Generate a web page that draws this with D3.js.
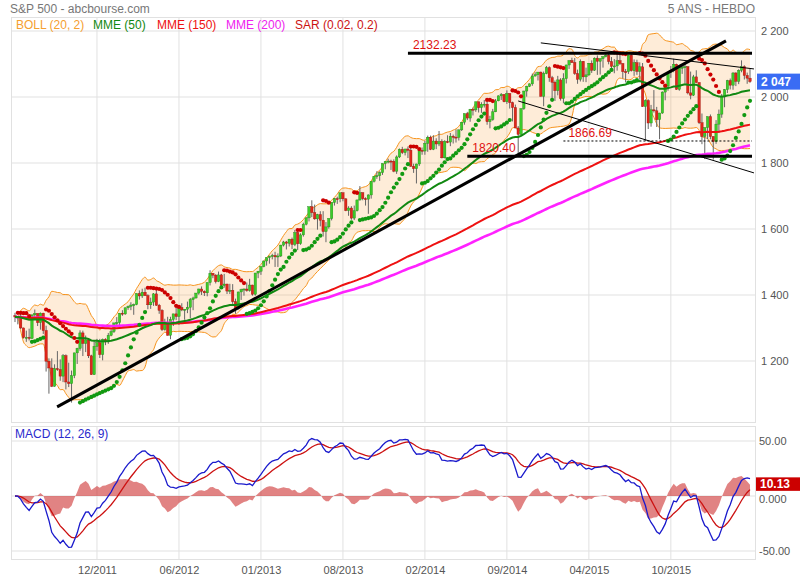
<!DOCTYPE html>
<html>
<head>
<meta charset="utf-8">
<script src="https://cdn.jsdelivr.net/npm/d3@7"></script>
<style>
  body { margin: 0; background: #fff; }
  svg { display: block; font-family: "Liberation Sans", Arial, sans-serif; }
</style>
</head>
<body>
<svg id="chart" width="800" height="580"></svg>
<script>
// S&P 500, weekly bars 20/05/2011 -> 13/05/2016 (261 weeks). open = previous week's close.
const firstOpen = 1337.8;
const closes = [
  1333.3,1331.1,1300.2,1271.0,1271.5,1268.5,1339.7,1343.8,1316.1,1345.0,
  1292.3,1199.4,1178.8,1123.5,1176.8,1174.0,1154.2,1216.0,1136.4,1131.4,
  1155.5,1224.6,1238.3,1285.1,1253.2,1263.9,1215.7,1158.7,1244.3,1255.2,
  1219.7,1265.3,1257.6,1277.8,1289.1,1315.4,1316.3,1344.9,1342.6,1361.2,
  1365.7,1369.6,1370.9,1404.2,1397.1,1408.5,1398.1,1370.3,1378.5,1403.4,
  1369.1,1353.4,1295.2,1317.8,1278.0,1325.7,1342.8,1335.0,1362.2,1354.7,
  1356.8,1362.7,1386.0,1391.0,1405.9,1418.2,1411.1,1406.6,1437.9,1465.8,
  1460.2,1440.7,1460.9,1428.6,1433.2,1411.9,1414.2,1379.9,1359.9,1409.2,
  1416.2,1418.1,1413.6,1430.2,1402.4,1466.5,1472.1,1486.0,1503.0,1513.2,
  1517.9,1519.8,1515.6,1518.2,1551.2,1560.7,1556.9,1569.2,1553.3,1588.9,
  1555.3,1582.2,1614.4,1633.7,1667.5,1649.6,1630.7,1643.4,1626.7,1592.4,
  1606.3,1631.9,1680.2,1692.1,1691.7,1709.7,1691.4,1655.8,1663.5,1633.0,
  1655.2,1688.0,1709.9,1691.8,1690.5,1703.2,1744.5,1759.8,1761.6,1770.6,
  1798.2,1804.8,1805.8,1805.1,1775.3,1818.3,1841.4,1831.4,1842.4,1838.7,
  1790.3,1782.6,1797.0,1838.6,1836.3,1859.5,1878.0,1841.1,1866.5,1857.6,
  1865.1,1815.7,1864.9,1863.4,1881.1,1878.5,1877.9,1900.5,1923.6,1949.4,
  1936.2,1962.9,1961.0,1985.4,1967.6,1978.2,1978.3,1925.2,1931.6,1955.1,
  1988.4,2003.4,2007.7,1985.5,2010.4,1982.9,1967.9,1906.1,1886.8,1964.6,
  2018.1,2031.9,2039.8,2063.5,2067.6,2075.4,2002.3,2070.7,2088.8,2058.2,
  2044.8,2019.4,2051.8,1995.0,2055.5,2097.0,2110.3,2104.5,2071.3,2053.4,
  2108.1,2061.0,2067.0,2102.1,2081.2,2117.7,2108.3,2116.1,2122.7,2126.1,
  2107.4,2092.8,2094.1,2110.0,2101.5,2076.8,2076.6,2126.6,2079.7,2103.8,
  2077.6,2091.5,1970.9,1988.9,1921.2,1961.1,1958.1,1931.3,1951.4,2014.9,
  2033.1,2075.2,2079.4,2099.2,2023.0,2089.2,2090.1,2091.7,2012.4,2005.6,
  2061.0,2043.9,1922.0,1880.3,1906.9,1940.2,1880.1,1864.8,1917.8,1948.1,
  2000.0,2022.2,2049.6,2035.9,2072.8,2047.6,2080.7,2091.6,2065.3,2057.1,
  2046.6
];
const highs = [
  1346,1334,1345,1301,1292,1298,1341,1356,1344,1347,
  1346,1307,1208,1208,1190,1230,1205,1221,1220,1195,
  1171,1225,1240,1293,1292,1277,1266,1219,1260,1267,
  1267,1268,1269,1285,1296,1316,1333,1345,1354,1362,
  1368,1378,1374,1405,1414,1419,1422,1402,1392,1406,
  1415,1373,1357,1328,1334,1334,1343,1364,1363,1375,
  1357,1380,1391,1395,1406,1419,1426,1414,1438,1475,
  1466,1463,1471,1464,1464,1434,1434,1433,1389,1410,
  1419,1420,1438,1449,1431,1467,1473,1487,1504,1514,
  1519,1525,1531,1526,1552,1564,1564,1570,1574,1597,
  1593,1587,1619,1636,1668,1687,1674,1646,1654,1654,
  1621,1632,1681,1694,1698,1710,1711,1693,1669,1669,
  1671,1689,1730,1711,1696,1705,1745,1760,1775,1775,
  1799,1806,1813,1810,1811,1823,1844,1849,1843,1850,
  1849,1798,1798,1839,1847,1867,1883,1883,1884,1875,
  1897,1872,1869,1884,1891,1886,1902,1901,1924,1950,
  1955,1964,1968,1986,1986,1984,1991,1985,1943,1964,
  1994,2005,2012,2009,2020,2011,1986,1977,1912,1966,
  2019,2034,2041,2071,2075,2076,2077,2077,2094,2093,
  2064,2050,2064,2057,2072,2098,2111,2119,2118,2083,
  2114,2109,2089,2103,2111,2120,2126,2117,2123,2135,
  2132,2121,2115,2127,2130,2102,2085,2128,2133,2114,
  2113,2105,2103,1993,1993,1976,2021,1970,1952,2017,
  2034,2076,2094,2116,2101,2097,2095,2104,2093,2077,
  2067,2081,2044,1950,1908,1941,1947,1881,1930,1962,
  2009,2024,2052,2056,2075,2075,2084,2111,2096,2074,
  2085
];
const lows = [
  1318,1311,1297,1268,1258,1262,1267,1334,1306,1295,
  1282,1168,1101,1121,1122,1170,1140,1136,1114,1121,
  1074,1148,1191,1231,1215,1227,1209,1158,1158,1231,
  1209,1202,1248,1252,1275,1285,1306,1300,1337,1340,
  1355,1354,1340,1369,1386,1391,1397,1357,1358,1367,
  1367,1343,1291,1292,1277,1266,1306,1324,1309,1351,
  1325,1345,1330,1354,1389,1401,1400,1397,1396,1429,
  1451,1435,1439,1425,1422,1403,1403,1373,1343,1356,
  1385,1398,1410,1410,1398,1398,1451,1461,1484,1489,
  1495,1508,1485,1485,1515,1547,1538,1547,1539,1548,
  1536,1552,1577,1611,1623,1636,1628,1598,1608,1577,
  1560,1601,1626,1671,1676,1681,1684,1654,1640,1628,
  1627,1653,1686,1687,1671,1646,1692,1741,1752,1746,
  1764,1781,1799,1779,1772,1767,1815,1827,1823,1815,
  1788,1770,1738,1791,1825,1825,1834,1839,1839,1842,
  1851,1814,1814,1860,1851,1859,1862,1868,1897,1916,
  1930,1925,1944,1955,1953,1952,1968,1916,1905,1928,
  1954,1987,1991,1984,1979,1965,1926,1905,1821,1884,
  1961,2001,2030,2034,2062,2050,2001,1972,2069,2046,
  1992,1988,2005,1989,1981,2041,2085,2103,2067,2040,
  2047,2046,2045,2064,2073,2079,2067,2068,2089,2120,
  2099,2085,2072,2080,2097,2056,2044,2070,2077,2064,
  2067,2052,1970,1867,1903,1910,1953,1909,1872,1949,
  1990,2019,2058,2075,2022,2019,2070,2042,2008,1993,
  2003,2043,1918,1857,1812,1872,1872,1810,1858,1891,
  1937,1969,2012,2023,2022,2033,2039,2075,2053,2040,
  2043
];

// week index of each date label (one every 29 weeks)
const xTickIdx = [29, 58, 87, 116, 145, 174, 203, 232];
const xTickLabels = ["12/2011", "06/2012", "01/2013", "08/2013", "02/2014", "09/2014", "04/2015", "10/2015"];
const priceTicks = [1200, 1400, 1600, 1800, 2000, 2200];
const macdTicks = [50, 0, -50];
const macdTickLabels = ["50.00", "0.000", "-50.00"];
const macdLast = 10.13;

// hand-drawn annotations, in (week index, price)
const trendLines = [
  [14.9, 1061, 251.5, 2170],
  [186, 2164, 261.4, 2085],
  [178, 1988, 261.4, 1770],
];
const levels = [2132.23, 1820.40, 1866.69];
const levelFrom = [139, 160, 194];
const levelDotted = [false, false, true];

const legendLabels = ["BOLL (20, 2)", "MME (50)", "MME (150)", "MME (200)", "SAR (0.02, 0.2)"];

// ---- layout / style
const L = 11, R = 755, MT = 17, MB = 422, DT = 426, DB = 559;
const COL = {
  grid: "#e1e1e1", text: "#666", boll: "#f7941d", bollFill: "rgba(250,160,60,0.2)",
  up: "#3ccc2a", upEdge: "#1f8a14", down: "#e0261a", downEdge: "#9c130b", wick: "#666",
  e50: "#118811", e150: "#ee1111", e200: "#ff22ff", sarUp: "#119911", sarDn: "#cc0000",
  macd: "#1a1acc", signal: "#cc1111", hist: "rgba(200,30,30,0.55)",
};
const legendColors = ["#f5a030", "#118811", "#ee1111", "#ee22ee", "#cc1111"];
const legendX = [16, 93, 157, 226, 295];

const svg = d3.select("#chart");
const x = d3.scaleLinear().domain([0, 260]).range([15, 750]);
const y = d3.scaleLinear().domain([1800, 2200]).range([163, 31]);
const ym = d3.scaleLinear().domain([-50, 50]).range([551, 441]);
const fmt = d3.formatLocale({ decimal: ".", thousands: " ", grouping: [3], currency: ["", ""] }).format(",d");

// ---- indicators from the weekly bars
const bars = closes.map((c, i) => {
  const o = i ? closes[i - 1] : firstOpen;
  return { i, o, c, h: Math.max(highs[i], o, c), l: Math.min(lows[i], o, c) };
});
function ema(arr, n) {
  const k = 2 / (n + 1), out = [];
  arr.forEach((v, i) => out.push(i ? out[i - 1] + k * (v - out[i - 1]) : v));
  return out;
}
const boll = closes.map((c, i) => {
  const w = closes.slice(Math.max(0, i - 19), i + 1);
  const m = d3.mean(w), sd = Math.sqrt(d3.mean(w, (v) => (v - m) ** 2));
  return { i, up: m + 2 * sd, lo: m - 2 * sd };
});
const mme = { e50: ema(closes, 50), e150: ema(closes, 150), e200: ema(closes, 200) };

function parabolicSar(step, maxAf) {
  const out = [];
  let up = false, af = step, ep = bars[0].l, s = bars[0].h;
  for (let i = 1; i < bars.length; i++) {
    s = s + af * (ep - s);
    const b = bars[i];
    if (up) s = Math.min(s, bars[i - 1].l, i > 1 ? bars[i - 2].l : Infinity);
    else s = Math.max(s, bars[i - 1].h, i > 1 ? bars[i - 2].h : -Infinity);
    if (up && b.l < s) { up = false; s = ep; ep = b.l; af = step; }
    else if (!up && b.h > s) { up = true; s = ep; ep = b.h; af = step; }
    else if (up && b.h > ep) { ep = b.h; af = Math.min(af + step, maxAf); }
    else if (!up && b.l < ep) { ep = b.l; af = Math.min(af + step, maxAf); }
    out.push({ i, v: s, up });
  }
  return out;
}
const sar = parabolicSar(0.02, 0.2);

const e12 = ema(closes, 12), e26 = ema(closes, 26);
const macd = e12.map((v, i) => v - e26[i]);
const signal = ema(macd, 9);
const hist = macd.map((v, i) => v - signal[i]);

// ---- frames + grid
const defs = svg.append("defs");
defs.append("clipPath").attr("id", "clipMain").append("rect")
  .attr("x", L).attr("y", MT).attr("width", R - L).attr("height", MB - MT);
defs.append("clipPath").attr("id", "clipMacd").append("rect")
  .attr("x", L).attr("y", DT).attr("width", R - L).attr("height", DB - DT);

const grid = svg.append("g").attr("stroke", COL.grid).attr("stroke-width", 1);
priceTicks.forEach((t) => grid.append("line").attr("x1", L).attr("x2", R).attr("y1", y(t)).attr("y2", y(t)));
macdTicks.forEach((t) => grid.append("line").attr("x1", L).attr("x2", R).attr("y1", ym(t)).attr("y2", ym(t)));
xTickIdx.forEach((t) => {
  grid.append("line").attr("x1", x(t)).attr("x2", x(t)).attr("y1", MT).attr("y2", MB);
  grid.append("line").attr("x1", x(t)).attr("x2", x(t)).attr("y1", DT).attr("y2", DB);
});
grid.append("rect").attr("x", L + 0.5).attr("y", MT + 0.5).attr("width", R - L).attr("height", MB - MT).attr("fill", "none");
grid.append("rect").attr("x", L + 0.5).attr("y", DT + 0.5).attr("width", R - L).attr("height", DB - DT).attr("fill", "none");

// ---- main panel
const main = svg.append("g").attr("clip-path", "url(#clipMain)");

main.append("path").datum(boll)
  .attr("fill", COL.bollFill)
  .attr("d", d3.area().x((d) => x(d.i)).y0((d) => y(d.lo)).y1((d) => y(d.up)).curve(d3.curveMonotoneX));
["up", "lo"].forEach((k) => main.append("path").datum(boll)
  .attr("fill", "none").attr("stroke", COL.boll).attr("stroke-width", 1)
  .attr("d", d3.line().x((d) => x(d.i)).y((d) => y(d[k])).curve(d3.curveMonotoneX)));

const candle = main.append("g").selectAll("g").data(bars).join("g");
candle.append("line")
  .attr("x1", (d) => x(d.i)).attr("x2", (d) => x(d.i))
  .attr("y1", (d) => y(d.h)).attr("y2", (d) => y(d.l))
  .attr("stroke", COL.wick).attr("stroke-width", 1);
candle.append("rect")
  .attr("x", (d) => x(d.i) - 1.2).attr("width", 2.4)
  .attr("y", (d) => y(Math.max(d.o, d.c)))
  .attr("height", (d) => Math.max(1, Math.abs(y(d.o) - y(d.c))))
  .attr("fill", (d) => d.c >= d.o ? COL.up : COL.down)
  .attr("stroke", (d) => d.c >= d.o ? COL.upEdge : COL.downEdge)
  .attr("stroke-width", 0.4);

[["e200", COL.e200, 2.6], ["e150", COL.e150, 2], ["e50", COL.e50, 2]].forEach(([k, c, w]) =>
  main.append("path").datum(mme[k])
    .attr("fill", "none").attr("stroke", c).attr("stroke-width", w)
    .attr("d", d3.line().x((d, i) => x(i)).y((d) => y(d))));

main.append("g").selectAll("circle").data(sar).join("circle")
  .attr("cx", (d) => x(d.i)).attr("cy", (d) => y(d.v)).attr("r", 2.1)
  .attr("fill", (d) => d.up ? COL.sarUp : COL.sarDn);

trendLines.forEach(([i1, v1, i2, v2], k) => main.append("line")
  .attr("x1", x(i1)).attr("y1", y(v1)).attr("x2", x(i2)).attr("y2", y(v2))
  .attr("stroke", "#000").attr("stroke-width", k === 0 ? 3 : 1));

levels.forEach((v, k) => {
  main.append("line")
    .attr("x1", x(levelFrom[k])).attr("x2", x(260) + 2)
    .attr("y1", y(v)).attr("y2", y(v))
    .attr("stroke", "#000")
    .attr("stroke-width", levelDotted[k] ? 1 : 3)
    .attr("stroke-dasharray", levelDotted[k] ? "2,2" : null);
  main.append("text")
    .attr("x", x(levelFrom[k]) + 5).attr("y", y(v) - 4)
    .attr("font-size", 12).attr("fill", "#e01010")
    .text(v.toFixed(2));
});

// legend + titles
svg.append("g").selectAll("text").data(legendLabels).join("text")
  .attr("x", (d, i) => legendX[i]).attr("y", 29)
  .attr("font-size", 12).attr("fill", (d, i) => legendColors[i])
  .text((d) => d);
svg.append("text").attr("x", 10).attr("y", 13).attr("font-size", 12).attr("fill", "#777")
  .text("S&P 500 - abcbourse.com");
svg.append("text").attr("x", 755).attr("y", 13).attr("font-size", 12).attr("fill", "#777")
  .attr("text-anchor", "end").text("5 ANS - HEBDO");
svg.append("text").attr("x", 15).attr("y", 438).attr("font-size", 12).attr("fill", "#2a2acc")
  .text("MACD (12, 26, 9)");

// ---- MACD panel
const low = svg.append("g").attr("clip-path", "url(#clipMacd)");
low.append("path").datum(hist)
  .attr("fill", COL.hist)
  .attr("d", d3.area().x((d, i) => x(i)).y0(ym(0)).y1((d) => ym(d)));
low.append("path").datum(signal)
  .attr("fill", "none").attr("stroke", COL.signal).attr("stroke-width", 1.3)
  .attr("d", d3.line().x((d, i) => x(i)).y((d) => ym(d)));
low.append("path").datum(macd)
  .attr("fill", "none").attr("stroke", COL.macd).attr("stroke-width", 1.3)
  .attr("d", d3.line().x((d, i) => x(i)).y((d) => ym(d)));

// ---- axes
function styleAxis(g) {
  g.select(".domain").remove();
  g.selectAll("text").attr("fill", "#555").attr("font-size", 11)
    .attr("font-family", "'Liberation Sans', Arial, sans-serif");
}
svg.append("g").attr("transform", `translate(757,0)`)
  .call(d3.axisRight(y).tickValues(priceTicks).tickFormat(fmt).tickSize(0).tickPadding(4))
  .call(styleAxis);
svg.append("g").attr("transform", `translate(756,0)`)
  .call(d3.axisRight(ym).tickValues(macdTicks).tickFormat((d, i) => macdTickLabels[i]).tickSize(0).tickPadding(3))
  .call(styleAxis)
  .call((g) => g.selectAll("text").attr("dy", (d) => d === 0 ? "0.55em" : "0.32em"));
svg.append("g").attr("transform", `translate(0,${DB})`)
  .call(d3.axisBottom(x).tickValues(xTickIdx).tickFormat((d, i) => xTickLabels[i]).tickSize(0).tickPadding(7))
  .call(styleAxis);

// current value boxes
const lastClose = closes[closes.length - 1];
svg.append("rect").attr("x", 757).attr("y", y(lastClose) - 8).attr("width", 43).attr("height", 16).attr("fill", "#3a6cf4");
svg.append("text").attr("x", 761).attr("y", y(lastClose)).attr("dy", "0.35em")
  .attr("font-size", 12).attr("font-weight", "bold").attr("fill", "#fff").text(fmt(Math.round(lastClose)));
svg.append("rect").attr("x", 756).attr("y", ym(macdLast) - 7.5).attr("width", 44).attr("height", 13.5).attr("fill", "#cc0000");
svg.append("text").attr("x", 760).attr("y", ym(macdLast) - 0.8).attr("dy", "0.35em")
  .attr("font-size", 12).attr("font-weight", "bold").attr("fill", "#fff").text(macdLast.toFixed(2));
</script>
</body>
</html>
